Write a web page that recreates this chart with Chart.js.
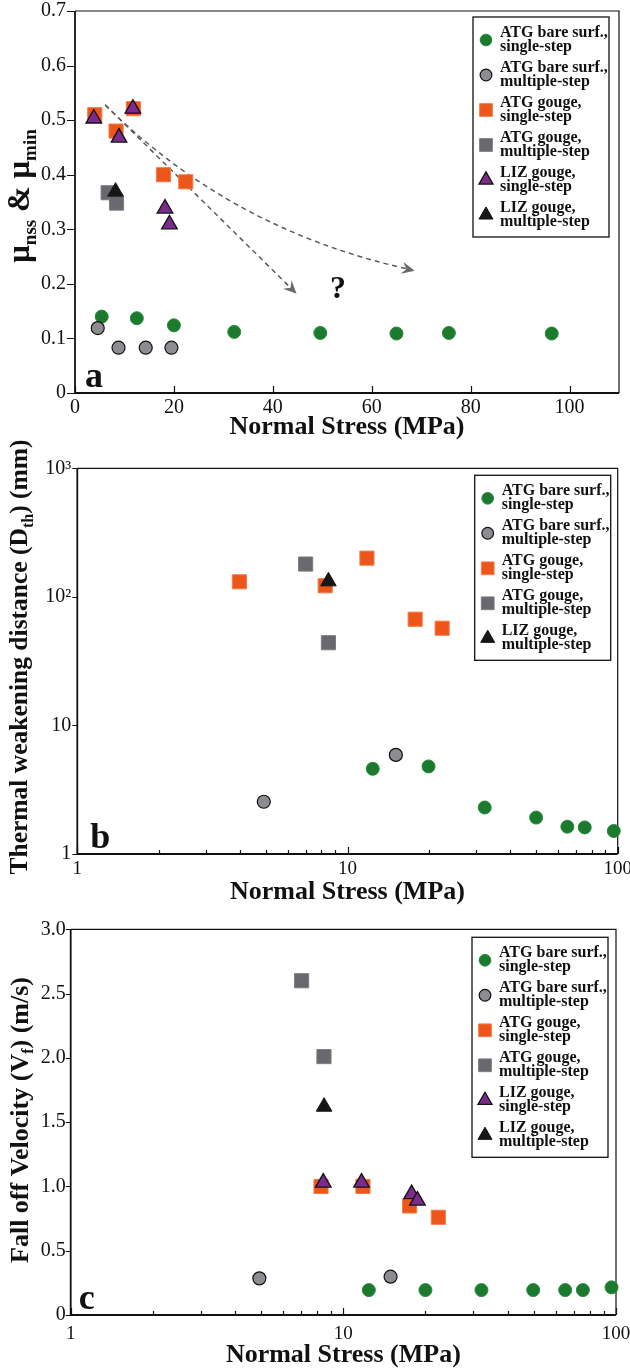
<!DOCTYPE html>
<html>
<head>
<meta charset="utf-8">
<script src="https://cdn.jsdelivr.net/npm/chart.js@4.4.1/dist/chart.umd.min.js"></script>
<style>
  html, body { margin: 0; padding: 0; background: #fff; }
  #wrap { position: relative; width: 630px; height: 1368px; overflow: hidden; }
  #wrap canvas { position: absolute; left: 0; }
</style>
</head>
<body>
<div id="wrap">
  <canvas id="chartA" width="630" height="440" style="top:0px"></canvas>
  <canvas id="chartB" width="630" height="475" style="top:430px"></canvas>
  <canvas id="chartC" width="630" height="468" style="top:900px"></canvas>
</div>
<script>
// ===== Data =====

// panel a : mu vs normal stress
const aBareSingleX = [5.4, 12.5, 20, 32.2, 49.6, 65, 75.6, 96.4];
const aBareSingleY = [0.14, 0.137, 0.124, 0.112, 0.11, 0.109, 0.11, 0.109];
const aBareMultiX = [4.6, 8.8, 14.3, 19.5];
const aBareMultiY = [0.119, 0.083, 0.083, 0.083];
const aGougeSingleX = [4.0, 8.3, 11.8, 17.9, 22.4];
const aGougeSingleY = [0.51, 0.48, 0.521, 0.40, 0.387];
const aGougeMultiX = [6.7, 8.4];
const aGougeMultiY = [0.367, 0.348];
const aLizSingleX = [3.8, 8.9, 11.7, 18.2, 19.1];
const aLizSingleY = [0.503, 0.468, 0.521, 0.338, 0.309];
const aLizMultiX = [8.2];
const aLizMultiY = [0.369];

// panel b : thermal weakening distance (log-log)
const bBareSingleX = [12.4, 19.95, 32.2, 49.9, 65.1, 75.5, 96.7];
const bBareSingleY = [4.6, 4.8, 2.3, 1.92, 1.63, 1.61, 1.51];
const bBareMultiX = [4.9, 15.1];
const bBareMultiY = [2.55, 5.9];
const bGougeSingleX = [3.98, 8.27, 11.8, 17.8, 22.4];
const bGougeSingleY = [131, 122, 200, 67, 57];
const bGougeMultiX = [7.0, 8.5];
const bGougeMultiY = [180, 44];
const bLizMultiX = [8.5];
const bLizMultiY = [132];

// panel c : fall off velocity
const cBareSingleX = [12.4, 20, 32.1, 49.7, 65.1, 75.6, 96.3];
const cBareSingleY = [0.194, 0.194, 0.194, 0.194, 0.194, 0.194, 0.215];
const cBareMultiX = [4.92, 14.9];
const cBareMultiY = [0.285, 0.298];
const cGougeSingleX = [8.28, 11.8, 17.5, 22.3];
const cGougeSingleY = [1.0, 1.0, 0.848, 0.76];
const cGougeMultiX = [7.03, 8.49];
const cGougeMultiY = [2.60, 2.01];
const cLizSingleX = [8.44, 11.66, 17.8, 18.7];
const cLizSingleY = [1.03, 1.03, 0.94, 0.89];
const cLizMultiX = [8.5];
const cLizMultiY = [1.62];

// axis ticks
const aXTicks = [0, 20, 40, 60, 80, 100];
const aYTicks = [0, 0.1, 0.2, 0.3, 0.4, 0.5, 0.6, 0.7];
const logXTicks = [1, 10, 100];
const bYTicks = [1, 10, 100, 1000];
const bYTickLabels = ['1', '10', '10\u00B2', '10\u00B3'];
const cYTicks = [0, 0.5, 1.0, 1.5, 2.0, 2.5, 3.0];

// trend arrows + question mark in panel a (data coords)
const arrowStraight = [[6.1, 0.528], [44.8, 0.182]];
const arrowCurve = [[6.1, 0.528], [31.4, 0.30], [68.7, 0.224]];
const questionMark = [53.2, 0.19];

const legendLabels = {
  bareSingle: ['ATG bare surf.,', 'single-step'],
  bareMulti: ['ATG bare surf.,', 'multiple-step'],
  gougeSingle: ['ATG gouge,', 'single-step'],
  gougeMulti: ['ATG gouge,', 'multiple-step'],
  lizSingle: ['LIZ gouge,', 'single-step'],
  lizMulti: ['LIZ gouge,', 'multiple-step']
};

// ===== Styles =====

const SERIF = '"Liberation Serif", "Times New Roman", serif';
Chart.defaults.font.family = SERIF;
Chart.defaults.color = '#111';

const seriesStyle = {
  bareSingle: { shape: 'circle', r: 6.5, fill: '#1c7a2f', stroke: '#2a8a3c', lw: 1, order: 5 },
  bareMulti: { shape: 'circle', r: 6.5, fill: '#8d8d91', stroke: '#111', lw: 1.2, order: 4 },
  gougeSingle: { shape: 'rect', r: 10, fill: '#ec561b', stroke: '#f27d4c', lw: 1, order: 3 },
  gougeMulti: { shape: 'rect', r: 10, fill: '#68686e', stroke: '#7c7c82', lw: 1, order: 2 },
  lizSingle: { shape: 'triangle', r: 9, fill: '#7b2b8c', stroke: '#111', lw: 1.3, order: 1 },
  lizMulti: { shape: 'triangle', r: 9, fill: '#161616', stroke: '#161616', lw: 1, order: 0 }
};

function makeDataset(key, xs, ys) {
  const s = seriesStyle[key];
  return {
    label: legendLabels[key].join(' '),
    data: xs.map((x, i) => ({ x: x, y: ys[i] })),
    pointStyle: s.shape,
    pointRadius: s.r,
    pointHoverRadius: s.r,
    backgroundColor: s.fill,
    borderColor: s.stroke,
    borderWidth: s.lw,
    order: s.order,
    clip: false,
    showLine: false
  };
}

// ===== Drawing helpers =====

function drawMarker(ctx, key, x, y, scale) {
  const s = seriesStyle[key];
  const r = s.r * scale;
  ctx.save();
  ctx.fillStyle = s.fill;
  ctx.strokeStyle = s.stroke;
  ctx.lineWidth = s.lw;
  ctx.beginPath();
  if (s.shape === 'circle') {
    ctx.arc(x, y, r, 0, Math.PI * 2);
  } else if (s.shape === 'rect') {
    const side = r * Math.SQRT2;
    ctx.rect(x - side / 2, y - side / 2, side, side);
  } else {
    ctx.moveTo(x, y - r);
    ctx.lineTo(x + 0.866 * r, y + 0.5 * r);
    ctx.lineTo(x - 0.866 * r, y + 0.5 * r);
    ctx.closePath();
  }
  ctx.fill();
  ctx.stroke();
  ctx.restore();
}

// rotated title with subscripts; parts = [[text, isSub], ...]
function drawVerticalTitle(ctx, parts, cx, cy, size) {
  const subSize = Math.round(size * 0.62);
  ctx.save();
  let total = 0;
  parts.forEach(([t, sub]) => {
    ctx.font = 'bold ' + (sub ? subSize : size) + 'px ' + SERIF;
    total += ctx.measureText(t).width;
  });
  ctx.translate(cx, cy);
  ctx.rotate(-Math.PI / 2);
  ctx.fillStyle = '#111';
  ctx.textBaseline = 'alphabetic';
  ctx.textAlign = 'left';
  let x = -total / 2;
  const base = size * 0.33;
  parts.forEach(([t, sub]) => {
    ctx.font = 'bold ' + (sub ? subSize : size) + 'px ' + SERIF;
    ctx.fillText(t, x, sub ? base + size * 0.22 : base);
    x += ctx.measureText(t).width;
  });
  ctx.restore();
}

function drawArrowHead(ctx, x, y, dx, dy) {
  const len = Math.hypot(dx, dy);
  const ux = dx / len, uy = dy / len;
  const L = 13, Wd = 6;
  ctx.beginPath();
  ctx.moveTo(x, y);
  ctx.lineTo(x - ux * L - uy * Wd, y - uy * L + ux * Wd);
  ctx.lineTo(x - ux * L * 0.65, y - uy * L * 0.65);
  ctx.lineTo(x - ux * L + uy * Wd, y - uy * L - ux * Wd);
  ctx.closePath();
  ctx.fill();
}

function panelPlugin(p) {
  return {
    id: 'panel' + p.tag,
    beforeDatasetsDraw(chart) {
      const ctx = chart.ctx, A = chart.chartArea;
      const xa = chart.scales.x, ya = chart.scales.y;
      ctx.save();
      ctx.strokeStyle = '#111';
      // frame
      ctx.lineWidth = 1.2;
      ctx.beginPath();
      ctx.moveTo(A.left, A.top); ctx.lineTo(A.right, A.top); ctx.lineTo(A.right, A.bottom);
      ctx.stroke();
      ctx.lineWidth = 1.8;
      ctx.beginPath();
      ctx.moveTo(A.left, A.top); ctx.lineTo(A.left, A.bottom); ctx.lineTo(A.right, A.bottom);
      ctx.stroke();
      // ticks
      ctx.lineWidth = 1.2;
      ctx.beginPath();
      xa.ticks.forEach(t => {
        const px = Math.round(xa.getPixelForValue(t.value)) + 0.5;
        ctx.moveTo(px, A.bottom); ctx.lineTo(px, A.bottom - 7);
      });
      (p.xMinor || []).forEach(v => {
        const px = Math.round(xa.getPixelForValue(v)) + 0.5;
        ctx.moveTo(px, A.bottom); ctx.lineTo(px, A.bottom - 4);
      });
      ya.ticks.forEach(t => {
        const py = Math.round(ya.getPixelForValue(t.value)) + 0.5;
        ctx.moveTo(A.left - p.yTickLen, py); ctx.lineTo(A.left, py);
      });
      ctx.stroke();

      if (p.arrows) {
        const P = pt => [xa.getPixelForValue(pt[0]), ya.getPixelForValue(pt[1])];
        ctx.strokeStyle = '#5a5a5e';
        ctx.fillStyle = '#6a6a6e';
        ctx.lineWidth = 1.5;
        ctx.setLineDash([5, 4]);
        const s0 = P(arrowStraight[0]), s1 = P(arrowStraight[1]);
        ctx.beginPath();
        ctx.moveTo(s0[0], s0[1]); ctx.lineTo(s1[0] - (s1[0] - s0[0]) * 0.04, s1[1] - (s1[1] - s0[1]) * 0.04);
        ctx.stroke();
        const c0 = P(arrowCurve[0]), c1 = P(arrowCurve[1]), c2 = P(arrowCurve[2]);
        ctx.beginPath();
        ctx.moveTo(c0[0], c0[1]);
        ctx.quadraticCurveTo(c1[0], c1[1], c2[0] - 8, c2[1] - 2);
        ctx.stroke();
        ctx.setLineDash([]);
        drawArrowHead(ctx, s1[0], s1[1], s1[0] - s0[0], s1[1] - s0[1]);
        drawArrowHead(ctx, c2[0], c2[1], c2[0] - c1[0], c2[1] - c1[1]);
        const q = P(questionMark);
        ctx.fillStyle = '#111';
        ctx.font = 'bold 32px ' + SERIF;
        ctx.textAlign = 'center';
        ctx.textBaseline = 'middle';
        ctx.fillText('?', q[0], q[1]);
      }
      ctx.restore();
    },
    afterDatasetsDraw(chart) {
      const ctx = chart.ctx, A = chart.chartArea;
      ctx.save();
      // legend box
      const keys = p.legend;
      const bx = A.right - p.legendRight, by = A.top + p.legendTop;
      const bw = 136, bh = keys.length * 35 + 10;
      ctx.fillStyle = '#fff';
      ctx.fillRect(bx, by, bw, bh);
      ctx.strokeStyle = '#111';
      ctx.lineWidth = 1.3;
      ctx.strokeRect(bx, by, bw, bh);
      keys.forEach((k, i) => {
        const y1 = by + 16 + i * 35;
        drawMarker(ctx, k, bx + 13, y1 + 7, 0.9);
        ctx.fillStyle = '#111';
        ctx.font = 'bold 16px ' + SERIF;
        ctx.textAlign = 'left';
        ctx.textBaseline = 'middle';
        ctx.fillText(legendLabels[k][0], bx + 27, y1);
        ctx.fillText(legendLabels[k][1], bx + 27, y1 + 14);
      });
      // panel letter
      ctx.fillStyle = '#111';
      ctx.font = 'bold 36px ' + SERIF;
      ctx.textAlign = 'left';
      ctx.textBaseline = 'alphabetic';
      ctx.fillText(p.tag, A.left + p.tagDx, A.bottom - 6);
      // y title
      drawVerticalTitle(ctx, p.yTitle, 19, p.yTitleCy, p.yTitleSize);
      ctx.restore();
    }
  };
}

function buildChart(canvasId, p, datasets, xScale, yScale) {
  const H = p.H;
  xScale.afterFit = s => { s.height = H - p.area.b; s.paddingLeft = 0; s.paddingRight = 0; };
  yScale.afterFit = s => { s.width = p.area.l; s.paddingTop = 0; s.paddingBottom = 0; };
  return new Chart(document.getElementById(canvasId), {
    type: 'scatter',
    data: { datasets: datasets },
    options: {
      responsive: false,
      animation: false,
      events: [],
      layout: { padding: { left: 0, top: p.area.t, right: 630 - p.area.r, bottom: 0 } },
      plugins: { legend: { display: false }, tooltip: { enabled: false } },
      scales: { x: xScale, y: yScale }
    },
    plugins: [panelPlugin(p)]
  });
}

const tickFont = { family: SERIF, size: 20 };
const logTickFont = { family: SERIF, size: 19 };
const xTitle = {
  display: true,
  text: 'Normal Stress (MPa)',
  color: '#111',
  font: { family: SERIF, size: 26, weight: 'bold', lineHeight: 1 },
  padding: { top: 0, bottom: 0 }
};
const noGrid = { display: false, drawTicks: false };
const logMinor = [1, 10].flatMap(d => [2, 3, 4, 5, 6, 7, 8, 9].map(k => k * d));

// ===== Panel a =====
buildChart('chartA', {
  tag: 'a', H: 440, area: { l: 75, t: 3, r: 619, b: 393 },
  yTickLen: 8, tagDx: 10, legendRight: 146, legendTop: 6,
  legend: ['bareSingle', 'bareMulti', 'gougeSingle', 'gougeMulti', 'lizSingle', 'lizMulti'],
  yTitle: [['\u03BC', false], ['nss', true], [' & ', false], ['\u03BC', false], ['min', true]],
  yTitleCy: 196, yTitleSize: 31, arrows: true
}, [
  makeDataset('lizSingle', aLizSingleX, aLizSingleY),
  makeDataset('lizMulti', aLizMultiX, aLizMultiY),
  makeDataset('gougeSingle', aGougeSingleX, aGougeSingleY),
  makeDataset('gougeMulti', aGougeMultiX, aGougeMultiY),
  makeDataset('bareMulti', aBareMultiX, aBareMultiY),
  makeDataset('bareSingle', aBareSingleX, aBareSingleY)
], {
  type: 'linear', min: 0, max: 110,
  afterBuildTicks: s => { s.ticks = aXTicks.map(v => ({ value: v })); },
  ticks: { font: tickFont, padding: 3, maxRotation: 0, autoSkip: false, color: '#111', callback: v => String(v) },
  grid: noGrid, border: { display: false }, title: xTitle
}, {
  type: 'linear', min: 0, max: 0.7,
  afterBuildTicks: s => { s.ticks = aYTicks.map(v => ({ value: v })); },
  ticks: { font: tickFont, padding: 9, color: '#111', callback: v => v === 0 ? '0' : v.toFixed(1) },
  grid: noGrid, border: { display: false }
});

// ===== Panel b =====
buildChart('chartB', {
  tag: 'b', H: 475, area: { l: 77.3, t: 38.3, r: 617.7, b: 424 },
  yTickLen: 5, tagDx: 13, legendRight: 143, legendTop: 7, xMinor: logMinor,
  legend: ['bareSingle', 'bareMulti', 'gougeSingle', 'gougeMulti', 'lizMulti'],
  yTitle: [['Thermal weakening distance (D', false], ['th', true], [') (mm)', false]],
  yTitleCy: 227, yTitleSize: 25.5
}, [
  makeDataset('lizMulti', bLizMultiX, bLizMultiY),
  makeDataset('gougeSingle', bGougeSingleX, bGougeSingleY),
  makeDataset('gougeMulti', bGougeMultiX, bGougeMultiY),
  makeDataset('bareMulti', bBareMultiX, bBareMultiY),
  makeDataset('bareSingle', bBareSingleX, bBareSingleY)
], {
  type: 'logarithmic', min: 1, max: 100,
  afterBuildTicks: s => { s.ticks = logXTicks.map(v => ({ value: v })); },
  ticks: { font: logTickFont, padding: 4, maxRotation: 0, autoSkip: false, color: '#111', callback: v => String(v) },
  grid: noGrid, border: { display: false }, title: xTitle
}, {
  type: 'logarithmic', min: 1, max: 1000,
  afterBuildTicks: s => { s.ticks = bYTicks.map(v => ({ value: v })); },
  ticks: { font: tickFont, padding: 6, color: '#111', callback: (v, i) => bYTickLabels[i] },
  grid: noGrid, border: { display: false }
});

// ===== Panel c =====
buildChart('chartC', {
  tag: 'c', H: 468, area: { l: 70.7, t: 29.3, r: 616, b: 415 },
  yTickLen: 5, tagDx: 8, legendRight: 144, legendTop: 8, xMinor: logMinor,
  legend: ['bareSingle', 'bareMulti', 'gougeSingle', 'gougeMulti', 'lizSingle', 'lizMulti'],
  yTitle: [['Fall off Velocity (V', false], ['f', true], [') (m/s)', false]],
  yTitleCy: 220, yTitleSize: 26
}, [
  makeDataset('lizSingle', cLizSingleX, cLizSingleY),
  makeDataset('lizMulti', cLizMultiX, cLizMultiY),
  makeDataset('gougeSingle', cGougeSingleX, cGougeSingleY),
  makeDataset('gougeMulti', cGougeMultiX, cGougeMultiY),
  makeDataset('bareMulti', cBareMultiX, cBareMultiY),
  makeDataset('bareSingle', cBareSingleX, cBareSingleY)
], {
  type: 'logarithmic', min: 1, max: 100,
  afterBuildTicks: s => { s.ticks = logXTicks.map(v => ({ value: v })); },
  ticks: { font: logTickFont, padding: 8, maxRotation: 0, autoSkip: false, color: '#111', callback: v => String(v) },
  grid: noGrid, border: { display: false }, title: xTitle
}, {
  type: 'linear', min: 0, max: 3,
  afterBuildTicks: s => { s.ticks = cYTicks.map(v => ({ value: v })); },
  ticks: { font: tickFont, padding: 5, color: '#111', callback: v => v === 0 ? '0' : v.toFixed(1) },
  grid: noGrid, border: { display: false }
});
</script>
</body>
</html>
